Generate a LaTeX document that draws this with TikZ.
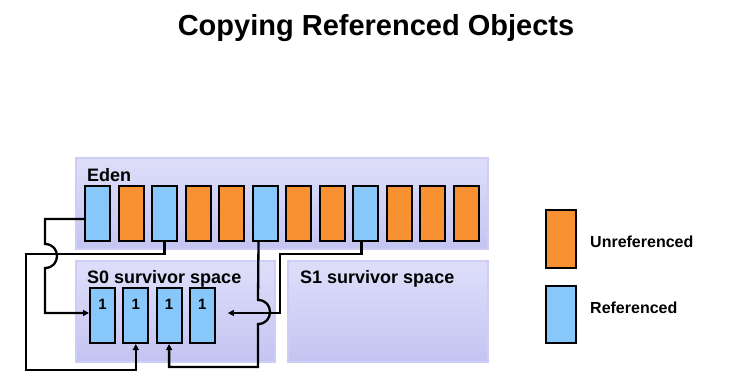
\documentclass[tikz,border=0pt]{standalone}
\usepackage{fontspec}
\setmainfont{Liberation Sans}
\usetikzlibrary{arrows.meta,calc}
\definecolor{orng}{RGB}{247,145,50}
\definecolor{blu}{RGB}{135,199,250}
\definecolor{lavtop}{RGB}{222,222,250}
\definecolor{lavbot}{RGB}{196,196,242}
\definecolor{lavline}{RGB}{205,205,245}
\tikzset{
  panel/.style={draw=lavline,line width=1.5pt,top color=lavtop,bottom color=lavbot,inner sep=0pt,anchor=north west},
  obj/.style={draw=black,line width=2pt,minimum width=25pt,minimum height=55pt,inner sep=0pt},
  unref/.style={obj,fill=orng},
  refd/.style={obj,fill=blu},
  lbl/.style={font=\bfseries\fontsize{16}{18}\selectfont,inner sep=0pt,anchor=base west},
  plbl/.style={font=\bfseries\fontsize{18}{20}\selectfont,inner sep=0pt,anchor=base west},
  conn/.style={line width=2.3pt,line join=miter},
  tip/.style={-{Triangle[length=6pt,width=6pt]}},
}
\begin{document}
\begin{tikzpicture}[x=1pt,y=-1pt]
\useasboundingbox (0,0) rectangle (736,389);
\node[font=\bfseries\fontsize{29}{33}\selectfont,inner sep=0pt,anchor=base] (title) at (376,35) {Copying Referenced Objects};
% panels
\node[panel,minimum width=412pt,minimum height=91pt] (eden) at (75,157) {};
\node[panel,minimum width=199pt,minimum height=101pt] (szero) at (75,260) {};
\node[panel,minimum width=200pt,minimum height=101pt] (sone) at (287,260) {};
\node[plbl] (edenlbl) at (87,181) {Eden};
\node[plbl] (szerolbl) at (87,283) {S0 survivor space};
\node[plbl] (sonelbl) at (300,283) {S1 survivor space};
% eden objects
\foreach \i/\s in {1/refd,2/unref,3/refd,4/unref,5/unref,6/refd,7/unref,8/unref,9/refd,10/unref,11/unref,12/unref}{
  \node[\s] (e\i) at ({97.5+(\i-1)*33.5},213.5) {};
}
% survivor objects
\foreach \i in {1,...,4}{
  \node[refd,anchor=center] (s\i) at ({102.5+(\i-1)*33.3},315.5) {};
  \node[font=\bfseries\fontsize{15}{17}\selectfont,inner sep=0pt] (n\i) at ($(s\i.center)+(0,-11.5)$) {1};
}
% legend
\node[unref,minimum width=30pt,minimum height=58pt] (lgu) at (561,239) {};
\node[refd,minimum width=30pt,minimum height=57pt] (lgr) at (561,314.5) {};
\node[lbl,anchor=west] (lgutxt) at (590,242) {Unreferenced};
\node[lbl,anchor=west] (lgrtxt) at (590,308) {Referenced};
% connectors
\draw[conn,tip] ($(e1.west)+(0,5.5)$) -- (45,219) -- (45,244)
   .. controls (61,244) and (61,268) .. (45,268) -- (45,313) -- ($(s1.west)+(0,-2.5)$);
\draw[conn,tip] (e3.south) |- (26,254) -- (26,370) -| (s2.south);
\draw[conn,tip] ($(e6.south)+(-6.5,0)$) -- (258,300)
   .. controls (274,300) and (274,324) .. (258,324) -- (258,367) -| (s3.south);
\draw[conn,tip] ($(e9.south)+(-4,0)$) |- (280,254) -- (280,313) -- ($(s4.east)+(12,-2.5)$);
\end{tikzpicture}
\end{document}
